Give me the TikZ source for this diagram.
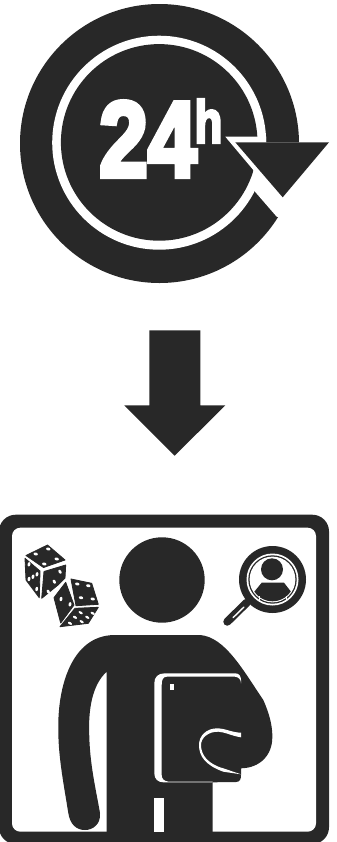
\documentclass[tikz,border=0pt]{standalone}
\usepackage{fontspec}
\setmainfont{Liberation Sans}
\newfontfamily\clockfont{Liberation Sans}[BoldFeatures={FakeBold=5}]
\usetikzlibrary{calc,positioning}
\definecolor{iconDark}{RGB}{40,40,40}
\tikzset{
  iconFill/.style={fill=iconDark,draw=none},
  iconCut/.style={fill=white,draw=none},
  diceFace/.style={fill=iconDark,draw=iconDark,line width=0.6pt,line join=round},
  clockText/.style={text=white,font=\clockfont\bfseries,inner sep=0pt,outer sep=0pt}
}

\begin{document}
\begin{tikzpicture}[x=0.72pt,y=-0.72pt]
  \useasboundingbox (0,0) rectangle (337,842);
  \fill[white](0,0) rectangle (337,842);
  % clock ring
  \fill[iconFill](159.5,143.5) circle (139.5);
  \fill[iconCut](159.2,142.7) circle (107);
  \fill[iconFill](159.2,142.4) circle (98.3);
  % gap at the arrow
  \fill[iconCut](225.3,136.7) -- (266,136.7) -- (266,142.3) -- (337,142.3) -- (337,226) -- (276.7,216.7) -- (255,191.7) -- (253.3,170) -- cycle;
  \fill[iconFill](235.3,142.3) -- (329,142.3) -- (282.7,197.3) -- cycle;
  \node[clockText,xscale=0.82,anchor=center] (hours) at (148,139){\fontsize{77}{77}\selectfont 24};
  \node[clockText,xscale=0.76,anchor=center] (hoursUnit) at (208.5,121){\fontsize{43}{43}\selectfont h};
  % down arrow
  \fill[iconFill](149.3,330.3) -- (200.3,330.3) -- (200.3,405.3) -- (225.3,405.3) -- (174.7,455.7) -- (124.3,405.3) -- (149.3,405.3) -- cycle;
  % frame
  \fill[iconFill,rounded corners=12pt](-1,514.7) rectangle (329,844);
  \fill[iconCut,rounded corners=6pt](12,527.7) rectangle (316,831.7);
  % person
  \fill[iconFill](162,580) circle (42.7);
  \fill[iconFill](115,635) -- (200,635) .. controls (225,637) and (243,670) .. (263.3,700)
    .. controls (270,715) and (272.5,727) .. (272.3,737) .. controls (272.5,755) and (260,768) .. (241,768.3)
    -- (241,775) .. controls (241,779) and (240,782) .. (236,782) -- (212.7,782.3) -- (212.7,832) -- (106.7,832) -- (106.7,671.7)
    .. controls (92,685) and (88,710) .. (89.3,736.7) .. controls (90,765) and (96,790) .. (100,813)
    .. controls (101,824) and (93,830) .. (85,830) .. controls (76,830) and (70,824) .. (68.3,813)
    .. controls (63,780) and (58,755) .. (58.3,726.7) .. controls (58,690) and (70,635) .. (115,635) -- cycle;
  \fill[iconCut](154.3,798.3) rectangle (163.7,831.7);
  % tablet edge
  \fill[iconCut](241,680) .. controls (241,676) and (239,673.3) .. (235,673.3) -- (165,673.3)
    .. controls (158,673.3) and (154.3,677) .. (154.3,683.3) -- (154.3,773.3)
    .. controls (154.3,779) and (158,782.3) .. (163.3,782.3) -- (212.7,782.3) -- (212.7,781.6) -- (168.3,781.6)
    .. controls (164,781) and (161.7,779) .. (161.7,775) -- (161.7,685)
    .. controls (161.7,680) and (163,676.7) .. (166.7,676.7) -- (235,676.7)
    .. controls (239,677) and (241,680) .. (241,683.3) -- cycle;
  \fill[iconCut](170,684) rectangle (174.3,690);
  % hand
  \fill[iconCut](241,732.7) .. controls (232,732.5) and (225,728.5) .. (218.3,728.3)
    .. controls (206,728) and (199,736) .. (199,745) .. controls (199,756) and (205,765) .. (223.3,771.7)
    -- (241,774.3) -- (223.3,768.3) .. controls (208,764) and (201,755) .. (201,745)
    .. controls (201,738) and (208,731.5) .. (218.3,731.7) .. controls (225,732) and (232,736) .. (241,737.3) -- cycle;
  % dice
  \draw[diceFace](26,555.5) -- (47.5,545) -- (65,560) -- (43.5,567.5) -- cycle;
  \draw[diceFace](25,558.3) -- (40,571) -- (39.3,597.7) -- (26,580) -- cycle;
  \draw[diceFace](44,571.5) -- (65.7,565) -- (65,578) -- (58,585) -- (41.7,598.3) -- cycle;
  \draw[diceFace](65.7,582.3) -- (74,605) -- (60.7,623) -- (54,597.7) -- cycle;
  \draw[diceFace](71,579) -- (91.7,583.3) -- (98.3,604.3) -- (76,605.7) -- cycle;
  \draw[diceFace](98.3,607.3) -- (75,608.3) -- (60,626.7) -- (88.3,623.3) -- cycle;
  \foreach \x/\y in {35.7/554,48.3/549,44.3/564,56.7/559,
                     77.3/584,88.3/585.7,81/597.7,92.7/599}{
    \fill[white](\x,\y) circle[x radius=2.2,y radius=1.5,rotate=-15];
  }
  \foreach \x/\y in {29/564.3,29/579,33/576.7,37/574.3,36.7/589,61/599,70/604.3}{
    \fill[white](\x,\y) circle[x radius=1.4,y radius=2.2,rotate=-10];
  }
  \foreach \x/\y in {60/571.7,54.3/581.7,48.3/591.7}{
    \fill[white](\x,\y) circle[x radius=1.4,y radius=2.2,rotate=30];
  }
  \foreach \x/\y in {92.7/613.3,80.7/612.7,87.3/617.3,75/617.3,81.7/621.7,70/623.3}{
    \fill[white](\x,\y) circle[x radius=2.3,y radius=1.2,rotate=-30];
  }
  % magnifier
  \draw[iconDark,line width=5.8pt,line cap=round](246.7,602.7) -- (227.3,621.7);
  \draw[white,line width=1pt,line cap=round](244,607) -- (233,617.7);
  \fill[iconFill](272.5,579.5) circle (33.5);
  \fill[iconCut](272.5,579.5) circle (26);
  \fill[iconFill](272.5,579.5) circle (24.2);
  \fill[iconCut](272.5,579.5) circle (22.9);
  \fill[iconFill](272,569.3) circle (11);
  \begin{scope}
    \clip (272.5,579.5) circle (21.8);
    \fill[iconFill](254.3,591.7) -- (261.7,582.7) -- (284,582.7) -- (291,591.7) -- (291,605) -- (254.3,605) -- cycle;
  \end{scope}
  \draw[white,line width=0.4pt](259.3,596) -- (259.3,600);
  \draw[white,line width=0.4pt](286,596) -- (286,600);
\end{tikzpicture}
\end{document}
